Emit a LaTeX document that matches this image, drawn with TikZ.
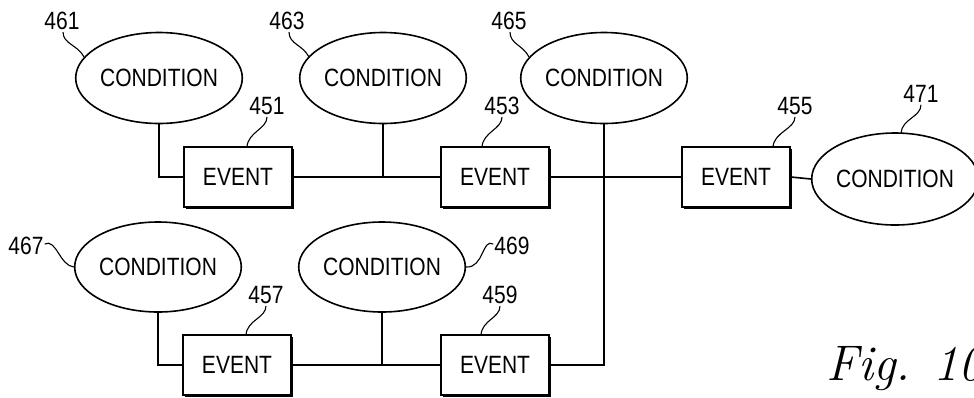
\documentclass[tikz,border=0pt]{standalone}
\usepackage{fontspec}
\setsansfont{Liberation Sans}
\usetikzlibrary{shapes.geometric,shadows}
\newcommand{\lbl}[1]{\scalebox{0.84}[1]{#1}}
\begin{document}
\begin{tikzpicture}[x=1pt,y=-1pt,
  conds/.style={ellipse, draw, line width=1.6pt, inner sep=0pt, minimum width=164pt, minimum height=91pt, font=\sffamily\fontsize{25}{25}\selectfont},
  evt/.style={rectangle, draw, fill=white, line width=1.5pt, inner sep=0pt, minimum width=108pt, minimum height=60pt, font=\sffamily\fontsize{25}{25}\selectfont, drop shadow={shadow xshift=2.2pt, shadow yshift=-2.2pt, fill=black, opacity=1}},
  num/.style={inner sep=0pt, font=\sffamily\fontsize{25}{25}\selectfont},
  wire/.style={line width=1.6pt},
  lead/.style={line width=1.1pt}]
\useasboundingbox (0,0) rectangle (974,397);
% conditions
\node[conds] (c461) at (159,78) {\lbl{CONDITION}};
\node[conds] (c463) at (383,78) {\lbl{CONDITION}};
\node[conds] (c465) at (604,78) {\lbl{CONDITION}};
\node[conds, minimum width=156pt, minimum height=92pt] (c471) at (895,179) {\lbl{CONDITION}};
\node[conds, minimum height=90pt] (c467) at (158,267) {\lbl{CONDITION}};
\node[conds, minimum height=90pt] (c469) at (382,267) {\lbl{CONDITION}};
% events
\node[evt] (e451) at (238,177) {\lbl{EVENT}};
\node[evt] (e453) at (495,177) {\lbl{EVENT}};
\node[evt] (e455) at (736,177) {\lbl{EVENT}};
\node[evt] (e457) at (237,365) {\lbl{EVENT}};
\node[evt] (e459) at (495,365) {\lbl{EVENT}};
% wires
\draw[wire] (c461.south) |- (e451.west);
\draw[wire] (e451.east) -- (e453.west);
\draw[wire] (c463.south) -- (c463.south |- e451.east);
\draw[wire] (e453.east) -- (e455.west);
\draw[wire] (c465.south) |- (e459.east);
\draw[wire] (e455.east) -- (c471.west);
\draw[wire] (c467.south) |- (e457.west);
\draw[wire] (e457.east) -- (e459.west);
\draw[wire] (c469.south) -- (c469.south |- e457.east);
% reference numerals
\node[num] (n461) at (62,21) {\lbl{461}};
\node[num] (n463) at (287,21) {\lbl{463}};
\node[num] (n465) at (509,21) {\lbl{465}};
\node[num] (n451) at (267,106) {\lbl{451}};
\node[num] (n453) at (502,106) {\lbl{453}};
\node[num] (n455) at (795,106) {\lbl{455}};
\node[num] (n471) at (921,94) {\lbl{471}};
\node[num] (n467) at (26,246) {\lbl{467}};
\node[num] (n469) at (512,246) {\lbl{469}};
\node[num] (n457) at (266,295) {\lbl{457}};
\node[num] (n459) at (500,295) {\lbl{459}};
% leaders
\draw[lead] (n461.south) ++(1,2) .. controls +(0,12) and (78,45) .. (84,57);
\draw[lead] (n463.south) ++(2,2) .. controls +(0,12) and (303,45) .. (309,57);
\draw[lead] (n465.south) ++(1,2) .. controls +(0,12) and (523,45) .. (529,57);
\draw[lead] (n451.south) ++(0,2) .. controls +(0,12) and (248,132) .. (247,147);
\draw[lead] (n453.south) ++(0,2) .. controls +(0,12) and (483,132) .. (482,147);
\draw[lead] (n455.south) ++(0,2) .. controls +(0,12) and (774,132) .. (773,147);
\draw[lead] (n471.south) ++(0,2) .. controls +(0,12) and (902,119) .. (901,133);
\draw[lead] (n467.east) ++(1,-2) .. controls (56,238) and (60,266) .. (c467.west);
\draw[lead] (n469.west) ++(-1,-2) .. controls (482,238) and (484,268) .. (c469.east);
\draw[lead] (n457.south) ++(0,2) .. controls +(0,12) and (247,320) .. (246,335);
\draw[lead] (n459.south) ++(0,2) .. controls +(0,12) and (482,320) .. (481,335);
% figure label
\node[anchor=base west, inner sep=0pt, font=\itshape\fontsize{50}{50}\selectfont] (fig) at (826,380) {Fig. 10};
\end{tikzpicture}
\end{document}
